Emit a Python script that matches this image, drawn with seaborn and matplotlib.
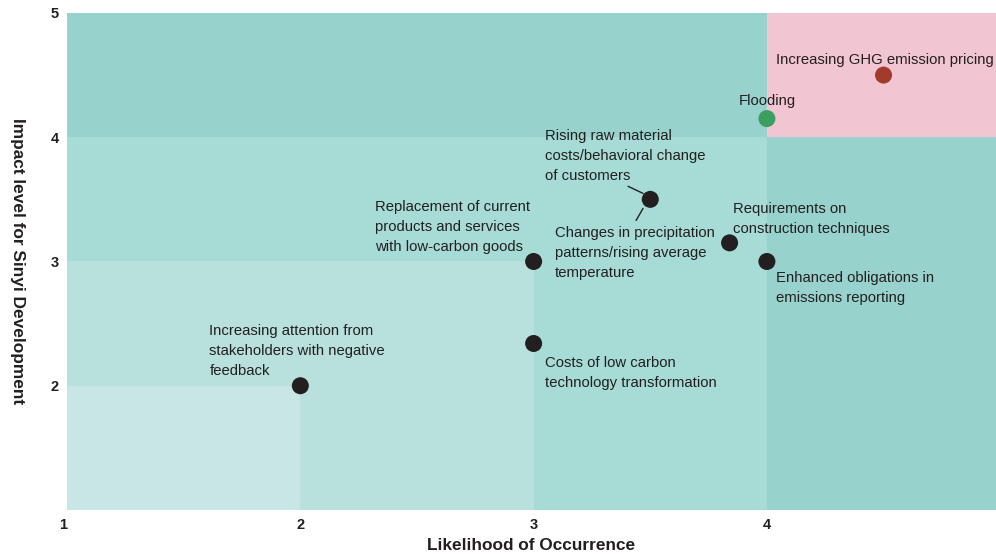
import numpy as np
import pandas as pd
import seaborn as sns
import matplotlib.pyplot as plt
from matplotlib.patches import Rectangle

# risk items: likelihood (x), impact (y)
risks = [
    "Increasing GHG emission pricing",
    "Flooding",
    "Rising raw material\ncosts/behavioral change\nof customers",
    "Replacement of current\nproducts and services\nwith low-carbon goods",
    "Requirements on\nconstruction techniques",
    "Enhanced obligations in\nemissions reporting",
    "Costs of low carbon\ntechnology transformation",
    "Increasing attention from\nstakeholders with negative\nfeedback",
]
likelihood = [4.5, 4.0, 3.5, 3.0, 3.84, 4.0, 3.0, 2.0]
impact = [4.5, 4.15, 3.5, 3.0, 3.15, 3.0, 2.34, 2.0]
group = ["high", "flood", "other", "other", "other", "other", "other", "other"]

# label anchors (left edge, vertical centre) in data units
label_x = [4.04, 3.88, 3.05, 2.32, 3.855, 4.04, 3.05, 1.61]
label_y = [4.62, 4.29, 3.85, 3.28, 3.34, 2.79, 2.10, 2.28]

# second label attached to the shared point at (3.5, 3.5)
extra_label = "Changes in precipitation\npatterns/rising average\ntemperature"
extra_xy = (3.09, 3.07)

zone_levels = [5, 4, 3, 2]
zone_colors = ["#97d2cd", "#a6dbd6", "#b8e1dd", "#c8e7e4"]

df = pd.DataFrame(dict(likelihood=likelihood, impact=impact, group=group))
palette = {"high": "#a23b2c", "flood": "#3a9f5f", "other": "#231f20"}

sns.set_style("white")
plt.rcParams["font.family"] = ["Liberation Sans", "DejaVu Sans"]

fig = plt.figure(figsize=(9.96, 5.57), dpi=100)
ax = fig.add_axes([0.0673, 0.0844, 0.9327, 0.8923])

for lvl, c in zip(zone_levels, zone_colors):
    ax.add_patch(Rectangle((1, 1), lvl - 1, lvl - 1, color=c, lw=0, zorder=0))
ax.add_patch(Rectangle((4, 4), 1, 1, color="#f1c5d2", lw=0, zorder=0))

sns.scatterplot(data=df, x="likelihood", y="impact", hue="group", palette=palette,
                s=150, edgecolor="none", legend=False, ax=ax, zorder=3)

fs = 10.7
for txt, x, y in zip(risks, label_x, label_y):
    ax.text(x, y, txt, ha="left", va="center", fontsize=fs, color="#231f20",
            linespacing=1.55)
ax.text(extra_xy[0], extra_xy[1], extra_label, ha="left", va="center", fontsize=fs,
        color="#231f20", linespacing=1.55)

# leader lines to the shared point
ax.plot([3.405, 3.469], [3.605, 3.548], color="#231f20", lw=1, zorder=2)
ax.plot([3.469, 3.439], [3.427, 3.33], color="#231f20", lw=1, zorder=2)

ax.set_xlim(1, 4.982)
ax.set_ylim(1, 5)
ax.set_xticks([1, 2, 3, 4])
ax.set_yticks([2, 3, 4, 5])
ax.tick_params(length=0, labelsize=10.5, colors="#231f20", pad=6)
ax.set_xticklabels(["1", "2", "3", "4"])
for lab in ax.get_xticklabels() + ax.get_yticklabels():
    lab.set_fontweight("bold")
ax.get_xticklabels()[0].set_horizontalalignment("right")
sns.despine(ax=ax, left=True, bottom=True)

ax.set_xlabel("Likelihood of Occurrence", fontsize=12.4, fontweight="bold",
              color="#231f20", labelpad=4)
ax.set_ylabel("Impact level for Sinyi Development", fontsize=12.4, fontweight="bold",
              color="#231f20", rotation=-90, labelpad=29)

fig.savefig("out.png", dpi=100)
